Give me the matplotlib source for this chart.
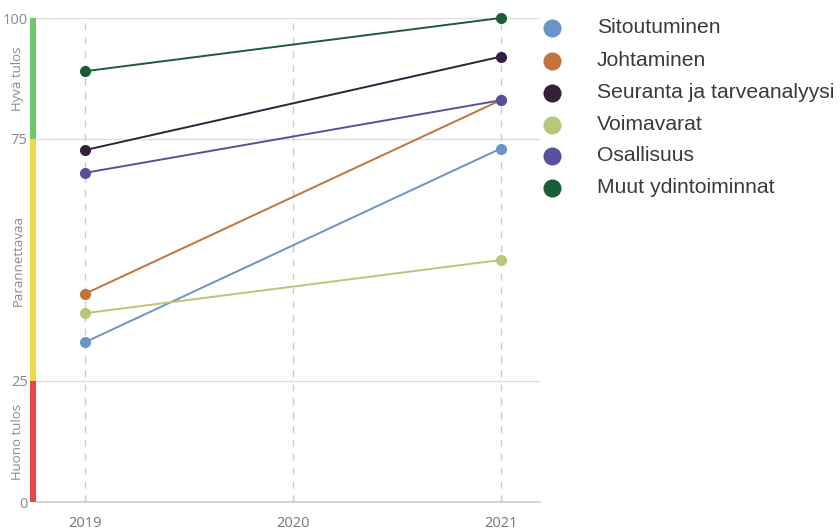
import matplotlib
matplotlib.use("Agg")
import matplotlib.pyplot as plt
from matplotlib.lines import Line2D
from matplotlib.patches import Rectangle
import matplotlib.transforms as mtransforms

years = [2019, 2020, 2021]
series_names = ["Sitoutuminen", "Johtaminen", "Seuranta ja tarveanalyysi",
                "Voimavarat", "Osallisuus", "Muut ydintoiminnat"]
series_years = [2019, 2021]
sitoutuminen = [33, 73]
johtaminen = [43, 83]
seuranta = [72.7, 92]
voimavarat = [39, 50]
osallisuus = [68, 83]
muut = [89, 100]
series_values = [sitoutuminen, johtaminen, seuranta, voimavarat, osallisuus, muut]
colors = ["#6b93c6", "#c0733a", "#35203c", "#b5c77a", "#58509b", "#1b5e35"]

y_ticks = [0, 25, 75, 100]
bands = [(0, 25, "#e8474a", "Huono tulos"),
         (25, 75, "#f0d84a", "Parannettavaa"),
         (75, 100, "#6cc86a", "Hyvä tulos")]

fig = plt.figure(figsize=(8.4, 5.32), dpi=100)
W, H = 840, 532
left, right, top, bottom = 36, 540, 18, 502
ax = fig.add_axes([left / W, 1 - bottom / H, (right - left) / W, (bottom - top) / H])
ax.set_xlim(2018.765, 2021.19)
ax.set_ylim(0, 100)

for s in ["top", "right", "left"]:
    ax.spines[s].set_visible(False)
ax.spines["bottom"].set_color("#cccccc")
ax.spines["bottom"].set_linewidth(1.2)

ax.set_yticks(y_ticks)
ax.set_yticklabels([str(t) for t in y_ticks])
ax.set_xticks(years)
ax.set_xticklabels([str(y) for y in years])
ax.tick_params(axis="y", length=0, pad=6, labelsize=10.5, labelcolor="#888888")
ax.tick_params(axis="x", length=0, pad=10, labelsize=10.5, labelcolor="#777777")
for lab in ax.get_xticklabels() + ax.get_yticklabels():
    lab.set_fontfamily("Open Sans")

for t in y_ticks[1:]:
    ax.axhline(t, color="#dddddd", lw=1.0, zorder=1)
for y in years:
    ax.axvline(y, color="#cccccc", lw=1.0, ls=(0, (5, 5)), zorder=1)

trans = mtransforms.blended_transform_factory(ax.transAxes, ax.transData)
for lo, hi, c, lab in bands:
    ax.add_patch(Rectangle((-0.012, lo), 0.012, hi - lo, transform=trans,
                           color=c, clip_on=False, zorder=3, lw=0))
    ax.text(-0.036, (lo + hi) / 2, lab, transform=trans, rotation=90,
            ha="center", va="center", fontsize=9.5, color="#8a8a8a",
            family="Open Sans")

for vals, c in zip(series_values, colors):
    ax.plot(series_years, vals, color=c, lw=1.4, marker="o", markersize=8,
            markeredgewidth=0, zorder=4, clip_on=False)

# legend
leg_x_marker = 552 / W
leg_x_text = 597 / W
row_y = [28, 61, 93, 125, 156, 188]
for name, c, ry in zip(series_names, colors, row_y):
    fy = 1 - ry / H
    fig.add_artist(Line2D([leg_x_marker], [fy], marker="o", markersize=13,
                          color=c, markeredgewidth=0, transform=fig.transFigure))
    fig.text(leg_x_text, fy, name, ha="left", va="center", fontsize=15.2,
             color="#3a3a3a", family="Liberation Sans")

fig.savefig("out.png", dpi=100)
